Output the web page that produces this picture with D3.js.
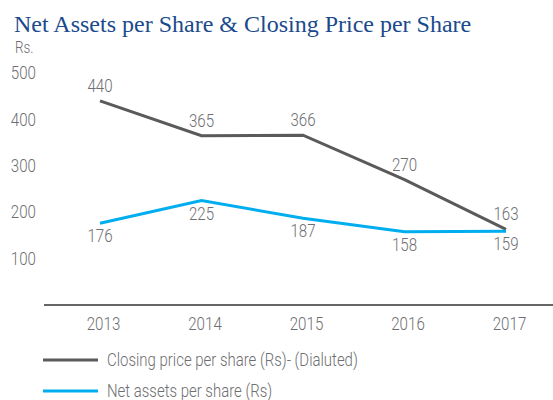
<!DOCTYPE html>
<html><head><meta charset="utf-8">
<script src="https://cdn.jsdelivr.net/npm/d3@7"></script>
<style>
body{margin:0;background:#fff;}
text{font-family:Roboto,"Liberation Sans",sans-serif;font-weight:300;}
</style></head>
<body><svg id="c" width="553" height="400"></svg>
<script>
const years = ["2013","2014","2015","2016","2017"];
const closingPrice = [440,365,366,270,163];
const netAssets = [176,225,187,158,159];
const yTicks = [100,200,300,400,500];
const seriesNames = ["Closing price per share (Rs)- (Dialuted)","Net assets per share (Rs)"];
const colors = ["#5a5a5a","#00aeef"];

const SX = 0.84;
function condense(sel){
  sel.each(function(){
    const t = d3.select(this);
    const xx = +t.attr("x")||0, yy = +t.attr("y")||0;
    t.attr("transform",`translate(${xx},${yy}) scale(${SX},1)`).attr("x",0).attr("y",0);
  });
}

const svg = d3.select("#c");
const x = d3.scalePoint().domain(years).range([100,506]);
const y = d3.scaleLinear().domain([0,500]).range([305,73]);
const grey = "#6d6e71";

svg.append("text").attr("x",14).attr("y",32)
  .style("font-family","'Liberation Serif','Times New Roman',serif").style("font-weight","400")
  .style("font-size","24px").attr("fill","#1b4a8c")
  .text("Net Assets per Share & Closing Price per Share");
svg.append("text").attr("x",15).attr("y",53).attr("fill",grey).style("font-size","16px").text("Rs.").call(condense);

// y axis labels
const ya = svg.append("g").attr("transform","translate(36,0)")
  .call(d3.axisLeft(y).tickValues(yTicks).tickSize(0).tickPadding(0));
ya.select(".domain").remove();
ya.selectAll("text").attr("fill",grey).style("font-size","18px")
  .style("font-family","Roboto,sans-serif").style("font-weight","300").call(condense);

// x axis
svg.append("line").attr("x1",44).attr("x2",553).attr("y1",y(0)).attr("y2",y(0))
  .attr("stroke","#333").attr("stroke-width",1.5);
const xa = svg.append("g").attr("transform",`translate(3,${y(0)})`)
  .call(d3.axisBottom(x).tickSize(0).tickPadding(12));
xa.select(".domain").remove();
xa.selectAll("text").attr("fill",grey).style("font-size","18px")
  .style("font-family","Roboto,sans-serif").style("font-weight","300").call(condense);

const line = d3.line().x((d,i)=>x(years[i])).y(d=>y(d));
[closingPrice, netAssets].forEach((s,k)=>{
  svg.append("path").datum(s).attr("d",line).attr("fill","none")
    .attr("stroke",colors[k]).attr("stroke-width",3);
});
svg.selectAll(".lc").data(closingPrice).join("text")
  .attr("x",(d,i)=>x(years[i])).attr("y",d=>y(d)-9).attr("text-anchor","middle")
  .attr("fill",grey).style("font-size","18px").text(d=>d).call(condense);
svg.selectAll(".ln").data(netAssets).join("text")
  .attr("x",(d,i)=>x(years[i])).attr("y",d=>y(d)+19).attr("text-anchor","middle")
  .attr("fill",grey).style("font-size","18px").text(d=>d).call(condense);

// legend
seriesNames.forEach((n,k)=>{
  const ly = 360 + k*31;
  svg.append("line").attr("x1",43).attr("x2",98).attr("y1",ly).attr("y2",ly)
    .attr("stroke",colors[k]).attr("stroke-width",3);
  svg.append("text").attr("x",107).attr("y",ly+6).attr("fill",grey)
    .style("font-size","17.8px").text(n).call(condense);
});
</script></body></html>
